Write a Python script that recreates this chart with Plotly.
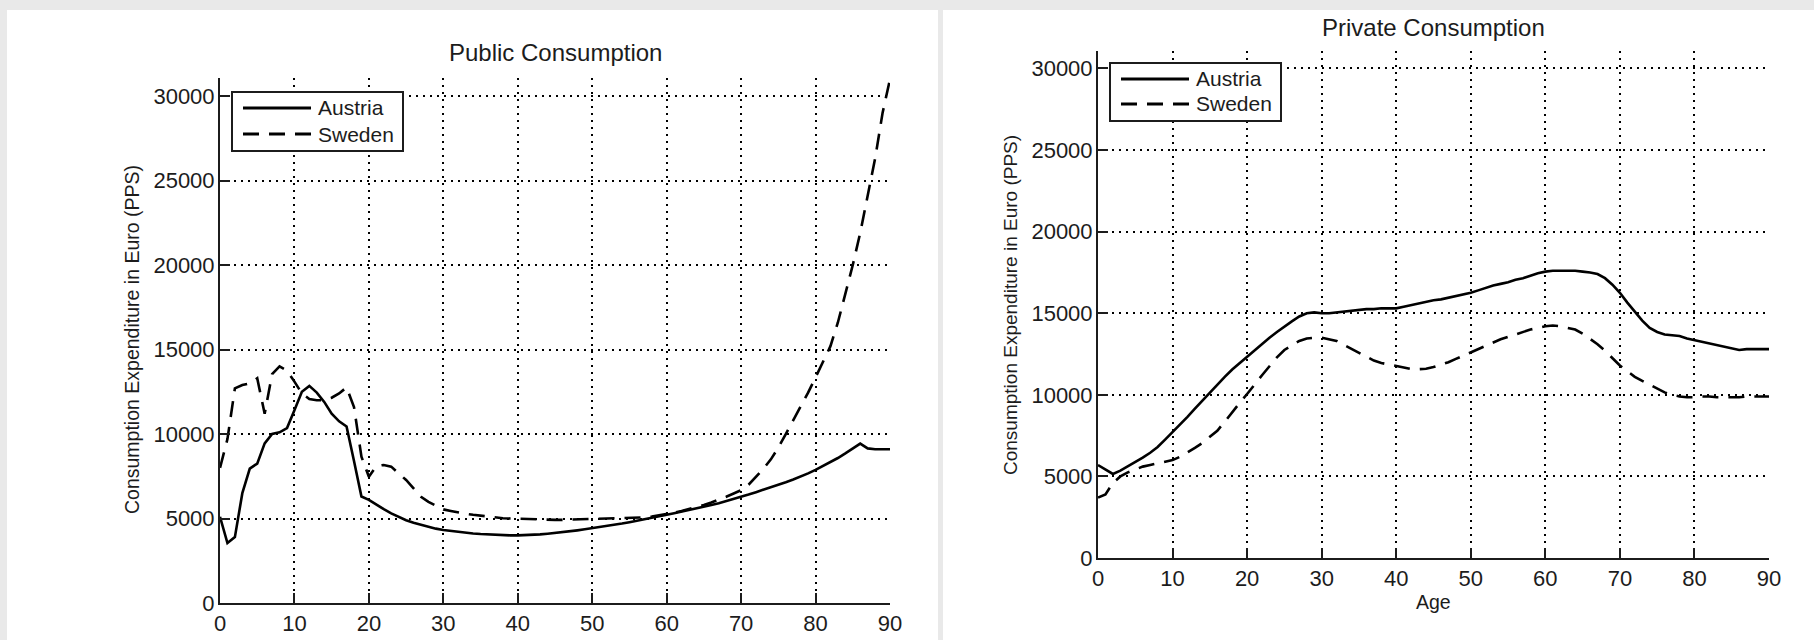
import plotly.graph_objects as go

W, H = 1814, 640

ages = list(range(0, 91))

public_austria = [
    5100, 3550, 3900, 6500, 7950, 8250, 9450, 10000, 10100, 10350,
    11400, 12500, 12850, 12450, 11900, 11200, 10750, 10450, 8400, 6300,
    6100, 5800, 5550, 5300, 5100, 4900, 4750, 4620, 4500, 4400,
    4320, 4260, 4200, 4150, 4110, 4080, 4050, 4030, 4010, 4000,
    4000, 4010, 4030, 4060, 4100, 4140, 4190, 4240, 4300, 4360,
    4420, 4480, 4550, 4620, 4700, 4780, 4860, 4940, 5030, 5120,
    5220, 5310, 5400, 5500, 5600, 5700, 5800, 5910, 6030, 6160,
    6290, 6420, 6560, 6700, 6850, 7000, 7150, 7310, 7480, 7670,
    7880, 8100, 8330, 8580, 8850, 9130, 9430, 9150, 9100, 9100,
    9100,
]

public_sweden = [
    8000, 9700, 12700, 12900, 13000, 13300, 11200, 13550, 14000, 13750,
    13100, 12400, 12070, 12000, 12000, 12150, 12400, 12760, 11600, 8660,
    7470, 8100, 8170, 8070, 7670, 7280, 6790, 6290, 5990, 5760,
    5540, 5450, 5350, 5280, 5220, 5160, 5100, 5060, 5020, 5000,
    4980, 4960, 4950, 4940, 4930, 4920, 4920, 4930, 4940, 4950,
    4970, 4980, 4990, 5000, 5010, 5020, 5040, 5070, 5110, 5180,
    5260, 5350, 5450, 5560, 5680, 5800, 5950, 6110, 6290, 6480,
    6680, 7000, 7450, 7950, 8500, 9200, 10000, 10800, 11600, 12450,
    13350, 14250, 15200, 16600, 18300, 20000, 21900, 24000, 26300, 29000,
    31000,
]

private_austria = [
    5700, 5450, 5150, 5350, 5600, 5850, 6150, 6450, 6800, 7250,
    7700, 8150, 8650, 9150, 9650, 10150, 10650, 11100, 11550, 11950,
    12350, 12750, 13150, 13500, 13850, 14200, 14500, 14800, 15000, 15050,
    15000, 15000, 15050, 15100, 15150, 15200, 15250, 15250, 15300, 15300,
    15300, 15400, 15500, 15600, 15700, 15800, 15850, 15950, 16050, 16150,
    16250, 16400, 16550, 16700, 16800, 16900, 17050, 17150, 17300, 17450,
    17550, 17600, 17600, 17600, 17600, 17550, 17500, 17400, 17150, 16750,
    16250, 15650, 15100, 14550, 14100, 13850, 13700, 13650, 13600, 13450,
    13350, 13250, 13150, 13050, 12950, 12850, 12750, 12800, 12800, 12800,
    12800,
]

private_sweden = [
    3700, 3900, 4600, 5000, 5250, 5450, 5600, 5700, 5800, 5900,
    6000, 6200, 6450, 6750, 7050, 7400, 7800, 8350, 8950, 9500,
    10050, 10650, 11200, 11750, 12300, 12750, 13050, 13300, 13450, 13500,
    13500, 13400, 13300, 13050, 12800, 12550, 12300, 12100, 11950, 11850,
    11750, 11650, 11580, 11570, 11600, 11700, 11850, 12000, 12200, 12400,
    12600, 12800, 13000, 13200, 13400, 13550, 13700, 13850, 14000, 14100,
    14200, 14250, 14200, 14100, 14000, 13750, 13450, 13100, 12700, 12250,
    11800, 11450, 11100, 10850, 10600, 10350, 10150, 10000, 9900, 9850,
    9850, 9900, 9900, 9850, 9850, 9850, 9850, 9900, 9900, 9900,
    9900,
]

x_ticks = [0, 10, 20, 30, 40, 50, 60, 70, 80, 90]
y_ticks = [0, 5000, 10000, 15000, 20000, 25000, 30000]
y_tick_labels = ["0", "5000", "10000", "15000", "20000", "25000", "30000"]
y_max = 31070

series_names = ["Austria", "Sweden"]
titles = ["Public Consumption", "Private Consumption"]
y_title = "Consumption Expenditure in Euro (PPS)"
x_title = "Age"

FONT = "Liberation Sans, Arial, sans-serif"
INK = "#1c1c1c"


def px(x):
    return x / W


def py(y):
    return 1 - y / H


solid = dict(color="black", width=2.6)
dashed = dict(color="black", width=2.6, dash="16px,10px")

fig = go.Figure()
fig.add_trace(go.Scatter(x=ages, y=public_austria, name=series_names[0], mode="lines",
                         line=solid, xaxis="x", yaxis="y", showlegend=False))
fig.add_trace(go.Scatter(x=ages, y=public_sweden, name=series_names[1], mode="lines",
                         line=dashed, xaxis="x", yaxis="y", showlegend=False))
fig.add_trace(go.Scatter(x=ages, y=private_austria, name=series_names[0], mode="lines",
                         line=solid, xaxis="x2", yaxis="y2", showlegend=False))
fig.add_trace(go.Scatter(x=ages, y=private_sweden, name=series_names[1], mode="lines",
                         line=dashed, xaxis="x2", yaxis="y2", showlegend=False))

axis_common = dict(
    showline=True, linecolor=INK, linewidth=2, mirror=False,
    ticks="inside", ticklen=10, tickwidth=2, tickcolor=INK,
    showgrid=True, gridcolor="black", gridwidth=1.5, griddash="2px,5px",
    zeroline=False, automargin=False,
    tickfont=dict(family=FONT, size=22, color=INK),
)

fig.update_layout(
    width=W, height=H,
    autosize=False,
    margin=dict(l=0, r=0, t=0, b=0, pad=0),
    paper_bgcolor="#e9e9e9",
    plot_bgcolor="rgba(0,0,0,0)",
    showlegend=False,
    xaxis=dict(domain=[px(220), px(890)], range=[0, 90], tickvals=x_ticks,
               anchor="y", **axis_common),
    yaxis=dict(domain=[py(603), py(78)], range=[0, y_max], tickvals=y_ticks,
               ticktext=y_tick_labels, anchor="x", ticklabelstandoff=-1, **axis_common),
    xaxis2=dict(domain=[px(1098), px(1769)], range=[0, 90], tickvals=x_ticks,
                anchor="y2", **axis_common),
    yaxis2=dict(domain=[py(558), py(51)], range=[0, y_max], tickvals=y_ticks,
                ticktext=y_tick_labels, anchor="x2", ticklabelstandoff=-1, **axis_common),
)

shapes = [
    dict(type="rect", xref="paper", yref="paper", x0=px(7), x1=px(938), y0=-0.05, y1=py(10),
         fillcolor="white", line=dict(width=0), layer="below"),
    dict(type="rect", xref="paper", yref="paper", x0=px(943), x1=1.01, y0=-0.05, y1=py(10),
         fillcolor="white", line=dict(width=0), layer="below"),
]

annotations = []

annotations.append(dict(text=titles[0], x=px(555), y=py(53), xref="paper", yref="paper",
                        showarrow=False, xanchor="center", yanchor="middle",
                        font=dict(family=FONT, size=24, color=INK)))
annotations.append(dict(text=titles[1], x=px(1433), y=py(27), xref="paper", yref="paper",
                        showarrow=False, xanchor="center", yanchor="middle",
                        font=dict(family=FONT, size=24, color=INK)))
annotations.append(dict(text=y_title, x=px(132), y=py(340), xref="paper", yref="paper",
                        showarrow=False, textangle=-90, xanchor="center", yanchor="middle",
                        font=dict(family=FONT, size=19.5, color=INK)))
annotations.append(dict(text=y_title, x=px(1010), y=py(305), xref="paper", yref="paper",
                        showarrow=False, textangle=-90, xanchor="center", yanchor="middle",
                        font=dict(family=FONT, size=19, color=INK)))
annotations.append(dict(text=x_title, x=px(1433), y=py(602), xref="paper", yref="paper",
                        showarrow=False, xanchor="center", yanchor="middle",
                        font=dict(family=FONT, size=19.5, color=INK)))

legend_boxes = [
    dict(box=(232, 92, 403, 151), rows=(108, 134), line_x=(243, 311), text_x=316),
    dict(box=(1110, 63, 1281, 121), rows=(79, 104), line_x=(1121, 1189), text_x=1194),
]
for lg in legend_boxes:
    bx0, by0, bx1, by1 = lg["box"]
    shapes.append(dict(type="rect", xref="paper", yref="paper",
                       x0=px(bx0), x1=px(bx1), y0=py(by1), y1=py(by0),
                       fillcolor="white", line=dict(color=INK, width=2), layer="above"))
    for name, ry, style in zip(series_names, lg["rows"], [solid, dashed]):
        shapes.append(dict(type="line", xref="paper", yref="paper",
                           x0=px(lg["line_x"][0]), x1=px(lg["line_x"][1]), y0=py(ry), y1=py(ry),
                           line=dict(color="black", width=3.2, dash=style.get("dash", "solid")),
                           layer="above"))
        annotations.append(dict(text=name, x=px(lg["text_x"]), y=py(ry), xref="paper", yref="paper",
                                showarrow=False, xanchor="left", yanchor="middle",
                                font=dict(family=FONT, size=21, color=INK)))

fig.update_layout(shapes=shapes, annotations=annotations)

fig.write_html(
    "out.html",
    config={"displayModeBar": False},
    post_script="document.body.style.margin='0';document.body.style.overflow='hidden';"
                "document.documentElement.style.overflow='hidden';",
)
